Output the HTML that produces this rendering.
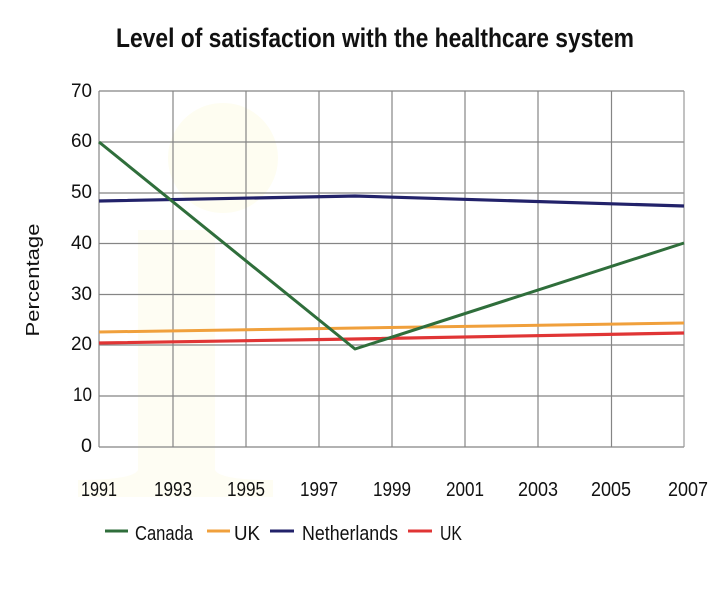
<!DOCTYPE html>
<html><head><meta charset="utf-8"><style>
html,body{margin:0;padding:0;background:#fff;}
svg{display:block;}
text{font-family:"Liberation Sans",sans-serif;fill:#111;}
</style></head><body>
<svg width="720" height="600" viewBox="0 0 720 600" xmlns="http://www.w3.org/2000/svg">
<rect width="720" height="600" fill="#fff"/>
<!-- faint watermark -->
<circle cx="223" cy="158" r="55" fill="#fefdf1"/>
<path d="M138 230 L215 230 L215 470 Q220 480 273 480 L273 497 L78 497 L78 480 Q133 480 138 470 Z" fill="#fefdf3"/>
<!-- grid -->
<g stroke="#858585" stroke-width="1.2" fill="none">
<line x1="99" y1="91" x2="684" y2="91"/>
<line x1="99" y1="142" x2="684" y2="142"/>
<line x1="99" y1="193" x2="684" y2="193"/>
<line x1="99" y1="243.5" x2="684" y2="243.5"/>
<line x1="99" y1="294.5" x2="684" y2="294.5"/>
<line x1="99" y1="345" x2="684" y2="345"/>
<line x1="99" y1="396" x2="684" y2="396"/>
<line x1="99" y1="447" x2="684" y2="447"/>
<line x1="99" y1="91" x2="99" y2="447"/>
<line x1="173" y1="91" x2="173" y2="447"/>
<line x1="246" y1="91" x2="246" y2="447"/>
<line x1="319" y1="91" x2="319" y2="447"/>
<line x1="392" y1="91" x2="392" y2="447"/>
<line x1="465" y1="91" x2="465" y2="447"/>
<line x1="538" y1="91" x2="538" y2="447"/>
<line x1="611.5" y1="91" x2="611.5" y2="447"/>
<line x1="684" y1="91" x2="684" y2="447" stroke="#999"/>
</g>
<!-- series -->
<g fill="none" stroke-linejoin="round" stroke-linecap="butt">
<polyline points="99,332 684,323" stroke="#f0a03c" stroke-width="3"/>
<polyline points="99,343 355,339 684,333" stroke="#e03535" stroke-width="3.2"/>
<polyline points="99,201 355,196 684,206" stroke="#22226a" stroke-width="3.2"/>
<polyline points="99,142 355,349 684,243" stroke="#2f6e3b" stroke-width="3"/>
</g>
<!-- title -->
<text x="116" y="47" font-size="27" font-weight="bold" textLength="518" lengthAdjust="spacingAndGlyphs">Level of satisfaction with the healthcare system</text>
<!-- y ticks -->
<g font-size="19" text-anchor="end">
<text x="92" y="97" textLength="21" lengthAdjust="spacingAndGlyphs">70</text>
<text x="92" y="147" textLength="21" lengthAdjust="spacingAndGlyphs">60</text>
<text x="92" y="198" textLength="21" lengthAdjust="spacingAndGlyphs">50</text>
<text x="92" y="249" textLength="21" lengthAdjust="spacingAndGlyphs">40</text>
<text x="92" y="300" textLength="21" lengthAdjust="spacingAndGlyphs">30</text>
<text x="92" y="350" textLength="21" lengthAdjust="spacingAndGlyphs">20</text>
<text x="92" y="401" textLength="19" lengthAdjust="spacingAndGlyphs">10</text>
<text x="92" y="452" textLength="11" lengthAdjust="spacingAndGlyphs">0</text>
</g>
<!-- x ticks -->
<g font-size="20" text-anchor="middle">
<text x="99" y="496" textLength="36" lengthAdjust="spacingAndGlyphs">1991</text>
<text x="173" y="496" textLength="38" lengthAdjust="spacingAndGlyphs">1993</text>
<text x="246" y="496" textLength="38" lengthAdjust="spacingAndGlyphs">1995</text>
<text x="319" y="496" textLength="38" lengthAdjust="spacingAndGlyphs">1997</text>
<text x="392" y="496" textLength="38" lengthAdjust="spacingAndGlyphs">1999</text>
<text x="465" y="496" textLength="38" lengthAdjust="spacingAndGlyphs">2001</text>
<text x="538" y="496" textLength="40" lengthAdjust="spacingAndGlyphs">2003</text>
<text x="611" y="496" textLength="40" lengthAdjust="spacingAndGlyphs">2005</text>
<text x="688" y="496" textLength="40" lengthAdjust="spacingAndGlyphs">2007</text>
</g>
<!-- y label -->
<text transform="translate(39,280) rotate(-90)" font-size="18" text-anchor="middle" textLength="113" lengthAdjust="spacingAndGlyphs">Percentage</text>
<!-- legend -->
<g stroke-width="3">
<line x1="105" y1="531" x2="128" y2="531" stroke="#2f6e3b"/>
<line x1="207" y1="531" x2="230" y2="531" stroke="#f0a03c"/>
<line x1="270" y1="531" x2="294" y2="531" stroke="#22226a"/>
<line x1="408" y1="531" x2="432" y2="531" stroke="#e03535"/>
</g>
<g font-size="20">
<text x="135" y="540" textLength="58" lengthAdjust="spacingAndGlyphs">Canada</text>
<text x="234" y="540" textLength="26" lengthAdjust="spacingAndGlyphs">UK</text>
<text x="302" y="540" textLength="96" lengthAdjust="spacingAndGlyphs">Netherlands</text>
<text x="440" y="540" textLength="22" lengthAdjust="spacingAndGlyphs">UK</text>
</g>
</svg>
</body></html>
